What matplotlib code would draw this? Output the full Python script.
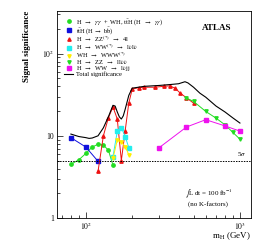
import matplotlib
matplotlib.use("Agg")
import matplotlib.pyplot as plt
from matplotlib.ticker import FixedLocator, FixedFormatter, LogLocator, NullFormatter

plt.rcParams['font.family'] = ['Liberation Serif', 'DejaVu Serif']
plt.rcParams['mathtext.fontset'] = 'stix'

# --- data ---
gg_m = [80, 90, 100, 110, 120, 130, 140, 150]
gg_s = [4.5, 5.1, 6.1, 7.3, 7.9, 7.7, 6.7, 4.4]

tth_m = [80, 100, 120]
tth_s = [9.5, 7.3, 4.9]

zz4l_m = [120, 130, 140, 150, 160, 170, 180, 190, 200, 220, 240, 280, 320, 350, 380, 410, 450, 500]
zz4l_s = [3.7, 10.0, 16.5, 22.5, 16.0, 5.0, 11.5, 25.0, 37.0, 38.5, 39.0, 39.0, 40.0, 40.5, 38.0, 33.0, 29.0, 25.0]

wwll_m = [150, 160, 170, 180, 190]
wwll_s = [5.6, 11.3, 12.6, 9.8, 7.2]

www_m = [150, 160, 170, 180, 190]
www_s = [5.3, 8.9, 8.5, 7.4, 5.9]

zzllvv_m = [450, 500, 600, 700, 800, 900, 1000]
zzllvv_s = [28.8, 26.2, 19.8, 16.4, 13.6, 11.0, 9.1]

wwjj_m = [300, 450, 600, 800, 1000]
wwjj_s = [7.2, 12.8, 15.7, 13.2, 11.4]

tot_m = [80, 90, 100, 105, 110, 120, 130, 140, 150, 155, 160, 165, 170, 175, 180, 190, 200,
         240, 300, 350, 400, 440, 460, 500, 550, 600, 700, 800, 900, 1000]
tot_s = [10.5, 9.8, 9.5, 9.3, 9.4, 10.0, 12.5, 17.0, 23.5, 23.0, 19.5, 17.0, 16.0, 17.5, 21.0, 31.0, 38.0,
         40.0, 41.0, 42.0, 43.0, 45.5, 44.0, 39.0, 33.0, 29.5, 23.0, 19.5, 16.5, 14.3]

five_sigma = 5

fig = plt.figure(figsize=(2.54, 2.48), dpi=100)
ax = fig.add_axes([57/254, 30/248, 194/254, 207/248])

lw = 0.7
ms = 2.4
ax.plot(gg_m, gg_s, color='#22dd22', marker='o', ms=ms, lw=lw, label=r'H  $\rightarrow$  $\gamma\gamma$  +  WH, t$\bar{\rm t}$H (H  $\rightarrow$  $\gamma\gamma$)')
ax.plot(tth_m, tth_s, color='#1010dd', marker='s', ms=ms, lw=lw, label=r't$\bar{\rm t}$H (H $\rightarrow$ b$\bar{\rm b}$)')
ax.plot(zz4l_m, zz4l_s, color='#ee1111', marker='^', ms=ms, lw=lw, label=r'H  $\rightarrow$  ZZ$^{(*)}$  $\rightarrow$  4l')
ax.plot(wwll_m, wwll_s, color='#22eeee', marker='s', ms=ms, lw=lw, label=r'H  $\rightarrow$  WW$^{(*)}$  $\rightarrow$  l$\nu$l$\nu$')
ax.plot(www_m, www_s, color='#ffee00', marker='v', ms=ms, lw=lw, label=r'WH  $\rightarrow$  WWW$^{(*)}$')
ax.plot(zzllvv_m, zzllvv_s, color='#22dd22', marker='v', ms=ms, lw=lw, label=r'H  $\rightarrow$  ZZ  $\rightarrow$  ll$\nu\nu$')
ax.plot(wwjj_m, wwjj_s, color='#ee11ee', marker='s', ms=ms, lw=lw, label=r'H  $\rightarrow$  WW  $\rightarrow$  l$\nu$jj')
ax.plot(tot_m, tot_s, color='black', lw=0.8, label='Total significance')

ax.axhline(five_sigma, color='black', ls=(0, (1.5, 1.2)), lw=0.7)
ax.text(960, five_sigma * 1.06, r'5$\sigma$', fontsize=5, ha='left', va='bottom')

ax.set_xscale('log')
ax.set_yscale('log')
ax.set_xlim(65, 1180)
ax.set_ylim(1, 330)

ax.xaxis.set_major_locator(FixedLocator([100, 1000]))
ax.xaxis.set_major_formatter(FixedFormatter([r'$10^2$', r'$10^3$']))
ax.xaxis.set_minor_locator(LogLocator(base=10, subs=range(2, 10)))
ax.xaxis.set_minor_formatter(NullFormatter())
ax.yaxis.set_major_locator(FixedLocator([1, 10, 100]))
ax.yaxis.set_major_formatter(FixedFormatter(['1', '10', r'$10^2$']))
ax.yaxis.set_minor_locator(LogLocator(base=10, subs=range(2, 10)))
ax.yaxis.set_minor_formatter(NullFormatter())
ax.tick_params(which='both', direction='in', labelsize=5.5, width=0.5, pad=2)
ax.tick_params(which='major', length=4)
ax.tick_params(which='minor', length=2)
for sp in ax.spines.values():
    sp.set_linewidth(0.6)

ax.set_xlabel(r'm$_{\rm H}$ (GeV)', fontsize=6.5, loc='right', labelpad=-1)
ax.set_ylabel('Signal significance', fontsize=6.5, fontweight='bold', loc='top')
ax.yaxis.set_label_coords(-0.135, 1.0)

ax.text(0.825, 0.918, 'ATLAS', transform=ax.transAxes, fontsize=6.5, fontweight='bold', ha='center', va='center')
ax.text(0.78, 0.118, r'$\int$L dt = 100 fb$^{-1}$', transform=ax.transAxes, fontsize=5, ha='center', va='center')
ax.text(0.78, 0.068, '(no K-factors)', transform=ax.transAxes, fontsize=5, ha='center', va='center')

leg = ax.legend(loc='upper left', bbox_to_anchor=(0.025, 0.985), frameon=False, fontsize=4.6,
                handlelength=1.4, handletextpad=0.45, labelspacing=-0.28, borderaxespad=0.0)
for ln in leg.get_lines()[:-1]:
    ln.set_linestyle('None')

fig.savefig('out.png', dpi=100)
